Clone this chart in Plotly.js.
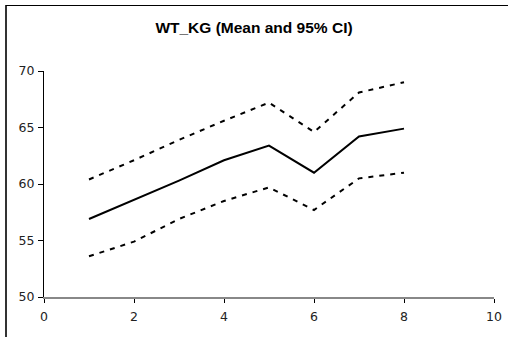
<!DOCTYPE html>
<html>
<head>
<meta charset="utf-8">
<script src="https://cdn.plot.ly/plotly-3.0.1.min.js"></script>
<style>html,body{margin:0;padding:0;background:#fff;}#chart{width:508px;height:337px;}</style>
</head>
<body>
<div id="chart"></div>
<script>
const visits = [1, 2, 3, 4, 5, 6, 7, 8];
const meanWt = [56.9, 58.6, 60.3, 62.1, 63.4, 61.0, 64.2, 64.9];
const upperCI = [60.4, 62.1, 63.9, 65.6, 67.2, 64.6, 68.1, 69.0];
const lowerCI = [53.6, 54.9, 56.9, 58.5, 59.7, 57.7, 60.5, 61.0];
const xTicks = [0, 2, 4, 6, 8, 10];
const yTicks = [50, 55, 60, 65, 70];
const chartTitle = 'WT_KG (Mean and 95% CI)';

const W = 450, H = 226, L = 44, T = 71;
function px(p){ return (p - L) / W; }
function py(p){ return 1 - (p - T) / H; }

const tickFont = {family: 'DejaVu Sans, Arial, sans-serif', size: 12.5, color: '#222'};

const traces = [
  {x: visits, y: upperCI, mode: 'lines', line: {color: '#000', width: 2, dash: '5px,6px'}, hoverinfo: 'skip'},
  {x: visits, y: meanWt, mode: 'lines', line: {color: '#000', width: 2}, hoverinfo: 'skip'},
  {x: visits, y: lowerCI, mode: 'lines', line: {color: '#000', width: 2, dash: '5px,6px'}, hoverinfo: 'skip'}
];

const layout = {
  width: 508, height: 337,
  margin: {l: 44, r: 14, t: 71, b: 40},
  paper_bgcolor: '#fff', plot_bgcolor: '#fff',
  showlegend: false,
  title: {text: '<b>' + chartTitle + '</b>', x: 0.5, xanchor: 'center', y: 1 - 28/337, yanchor: 'middle',
          font: {family: 'Liberation Sans, Arial, sans-serif', size: 15.5, color: '#000'}},
  xaxis: {range: [0, 10], tickvals: xTicks, ticktext: xTicks.map(String), showgrid: false, zeroline: false,
          showline: true, linecolor: '#888', linewidth: 2, ticks: 'outside', ticklen: 4, tickcolor: '#000',
          ticklabelstandoff: 3, tickfont: tickFont, fixedrange: true},
  yaxis: {range: [50, 70], tickvals: yTicks, ticktext: yTicks.map(String), showgrid: false, zeroline: false,
          showline: true, linecolor: '#000', linewidth: 1, ticks: 'outside', ticklen: 5, tickcolor: '#000',
          ticklabelstandoff: 1, tickfont: tickFont, fixedrange: true},
  shapes: [
    {type: 'line', xref: 'paper', yref: 'paper', x0: px(6), x1: px(6), y0: py(5), y1: py(337), line: {color: '#333', width: 2}},
    {type: 'line', xref: 'paper', yref: 'paper', x0: px(6), x1: px(508), y0: py(5.5), y1: py(5.5), line: {color: '#000', width: 1}}
  ]
};

Plotly.newPlot('chart', traces, layout, {displayModeBar: false, staticPlot: true});
</script>
</body>
</html>
